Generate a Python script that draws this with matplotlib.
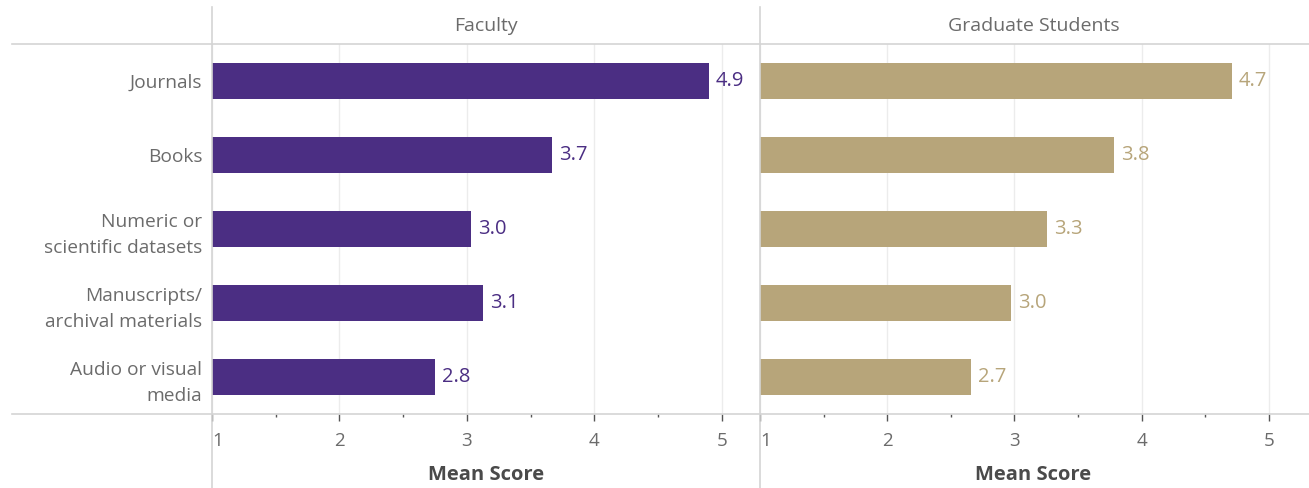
import matplotlib
matplotlib.use("Agg")
import matplotlib.pyplot as plt
from matplotlib.lines import Line2D

categories = ["Journals", "Books", "Numeric or\nscientific datasets",
              "Manuscripts/\narchival materials", "Audio or visual\nmedia"]
faculty = [4.90, 3.67, 3.03, 3.13, 2.75]
faculty_labels = ["4.9", "3.7", "3.0", "3.1", "2.8"]
grads = [4.71, 3.78, 3.26, 2.97, 2.66]
grads_labels = ["4.7", "3.8", "3.3", "3.0", "2.7"]
panels = ["Faculty", "Graduate Students"]
ticks = [1, 2, 3, 4, 5]

plt.rcParams['font.family'] = ['Open Sans', 'DejaVu Sans']

W, H = 1309, 488
fig = plt.figure(figsize=(W / 100, H / 100), dpi=100)

purple = "#4B2E83"
gold = "#B7A57A"
grey_txt = "#6b6b6b"
line_c = "#d4d4d4"

top, bottom = 44, 414


def fx(px):
    return px / W


def fy(py):
    return 1 - py / H


ax1 = fig.add_axes([fx(212), fy(bottom), fx(760 - 212), fy(top) - fy(bottom)])
ax2 = fig.add_axes([fx(760), fy(bottom), fx(1307 - 760), fy(top) - fy(bottom)])

ypos = list(range(len(categories)))
for ax, vals, labs, col, name in [(ax1, faculty, faculty_labels, purple, panels[0]),
                                  (ax2, grads, grads_labels, gold, panels[1])]:
    ax.barh(ypos, [v - 1 for v in vals], left=1, height=0.49, color=col, zorder=3)
    for y, v, l in zip(ypos, vals, labs):
        ax.text(v + 0.055, y, l, va='center', ha='left', color=col, fontsize=14.5, zorder=4)
    ax.set_xlim(1, 5.3)
    ax.set_ylim(len(categories) - 0.5, -0.5)
    ax.set_xticks(ticks)
    ax.set_xticklabels([str(t) for t in ticks])
    ax.get_xticklabels()[0].set_ha('left')
    ax.set_xticks([1.5, 2.5, 3.5, 4.5], minor=True)
    ax.tick_params(axis='x', which='major', length=5, width=1, color='#555555',
                   labelsize=13.5, labelcolor=grey_txt, pad=8, direction='out')
    ax.tick_params(axis='x', which='minor', length=2, width=1, color='#555555')
    ax.tick_params(axis='y', length=0)
    ax.grid(axis='x', color='#ececec', linewidth=1, zorder=0)
    for s in ax.spines.values():
        s.set_visible(False)
    ax.set_xlabel("Mean Score", fontsize=14.5, fontweight='bold', color='#4a4a4a', labelpad=11)
    ax.patch.set_alpha(0)
    fig.text((ax.get_position().x0 + ax.get_position().x1) / 2, fy(26), name,
             ha='center', va='center', fontsize=14, color=grey_txt)

ax1.set_yticks(ypos)
ax1.set_yticklabels(categories, fontsize=13.8, color=grey_txt, ha='right', linespacing=1.6)
ax1.tick_params(axis='y', pad=7)
ax2.set_yticks([])

# frame lines
fig.add_artist(Line2D([fx(12), fx(1309)], [fy(top), fy(top)], color=line_c, lw=1.2))
fig.add_artist(Line2D([fx(12), fx(1309)], [fy(bottom), fy(bottom)], color=line_c, lw=1.2))
fig.add_artist(Line2D([fx(212), fx(212)], [fy(7), fy(488)], color=line_c, lw=1.2))
fig.add_artist(Line2D([fx(760), fx(760)], [fy(7), fy(488)], color=line_c, lw=1.2))

fig.savefig("out.png", dpi=100)
